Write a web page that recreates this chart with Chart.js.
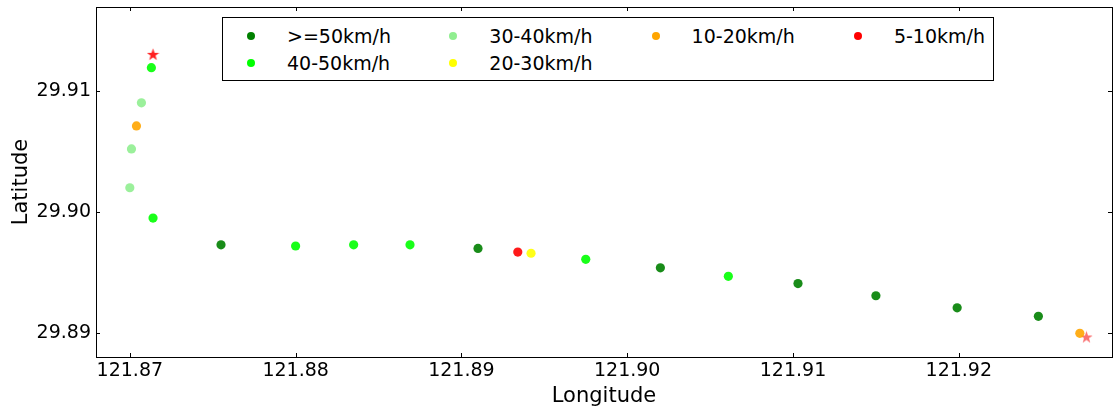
<!DOCTYPE html>
<html>
<head>
<meta charset="utf-8">
<script src="https://cdn.jsdelivr.net/npm/chart.js@4.4.1/dist/chart.umd.min.js"></script>
<style>
  html, body { margin: 0; padding: 0; background: #fff; }
  #wrap { position: relative; width: 1117px; height: 411px; overflow: hidden; }
  #legend {
    position: absolute; left: 222px; top: 17px; width: 770px; height: 62px;
    border: 1px solid #000; background: #fff;
    font-family: "DejaVu Sans", sans-serif; font-size: 19px; color: #000;
  }
  #legend .item { position: absolute; height: 24px; line-height: 24px; white-space: nowrap; }
  #legend .dot { position: absolute; width: 8px; height: 8px; border-radius: 50%; top: 8px; left: -4px; }
  #legend .txt { position: absolute; left: 36px; top: 0; }
</style>
</head>
<body>
<div id="wrap">
  <canvas id="track" width="1117" height="411"></canvas>
  <div id="legend"></div>
</div>
<script>
// speed classes and their colours
const speedClasses = [">=50km/h", "40-50km/h", "30-40km/h", "20-30km/h", "10-20km/h", "5-10km/h"];
const classColors = ["0,128,0", "0,255,0", "144,238,144", "255,255,0", "255,165,0", "255,0,0"];

// GPS track points, in driving order
const trackLon = [121.8713, 121.8707, 121.8704, 121.8701, 121.8700, 121.8714, 121.8755,
                  121.8800, 121.8835, 121.8869, 121.8910, 121.8934, 121.8942, 121.8975,
                  121.9020, 121.9061, 121.9103, 121.9150, 121.9199, 121.9248, 121.9273];
const trackLat = [29.9119, 29.9090, 29.9071, 29.9052, 29.9020, 29.8995, 29.8973,
                  29.8972, 29.8973, 29.8973, 29.8970, 29.8967, 29.8966, 29.8961,
                  29.8954, 29.8947, 29.8941, 29.8931, 29.8921, 29.8914, 29.8900];
// index into speedClasses for each point
const trackClass = [1, 2, 4, 2, 2, 1, 0,
                    1, 1, 1, 0, 5, 3, 1,
                    0, 1, 0, 0, 0, 0, 4];

const startPoint = [121.8714, 29.9130];
const endPoint = [121.9277, 29.8897];

const xTicks = [121.87, 121.88, 121.89, 121.90, 121.91, 121.92];
const yTicks = [29.89, 29.90, 29.91];

function starImage(color, size) {
  const c = document.createElement("canvas");
  c.width = size; c.height = size;
  const g = c.getContext("2d");
  const cx = size / 2, cy = size / 2, R = size / 2, r = R * 0.4;
  g.beginPath();
  for (let i = 0; i < 10; i++) {
    const rad = i % 2 ? r : R;
    const a = -Math.PI / 2 + i * Math.PI / 5;
    g.lineTo(cx + rad * Math.cos(a), cy + rad * Math.sin(a) + 0.5);
  }
  g.closePath();
  g.fillStyle = color;
  g.fill();
  return c;
}

const datasets = speedClasses.map((label, k) => ({
  label: label,
  data: trackLon.map((lon, i) => ({ x: lon, y: trackLat[i], k: trackClass[i] }))
                .filter(p => p.k === k),
  backgroundColor: "rgba(" + classColors[k] + ",0.9)",
  legendColor: "rgb(" + classColors[k] + ")",
  borderWidth: 0,
  pointRadius: 4.6,
  inLegend: true
}));

datasets.push({
  label: "start",
  data: [{ x: startPoint[0], y: startPoint[1] }],
  pointStyle: starImage("rgba(255,20,20,0.95)", 13),
  inLegend: false
});
datasets.push({
  label: "end",
  data: [{ x: endPoint[0], y: endPoint[1] }],
  pointStyle: starImage("rgba(250,100,100,0.9)", 13),
  inLegend: false
});

// inward ticks on all four sides plus the axes frame
const frameTicks = {
  id: "frameTicks",
  afterDatasetsDraw(chart) {
    const { ctx, chartArea: a, scales: { x, y } } = chart;
    ctx.save();
    ctx.strokeStyle = "#000";
    ctx.lineWidth = 1;
    ctx.beginPath();
    xTicks.forEach(v => {
      const px = Math.round(x.getPixelForValue(v)) + 0.5;
      ctx.moveTo(px, a.bottom); ctx.lineTo(px, a.bottom - 4);
      ctx.moveTo(px, a.top); ctx.lineTo(px, a.top + 4);
    });
    yTicks.forEach(v => {
      const py = Math.round(y.getPixelForValue(v)) + 0.5;
      ctx.moveTo(a.left, py); ctx.lineTo(a.left + 4, py);
      ctx.moveTo(a.right, py); ctx.lineTo(a.right - 4, py);
    });
    ctx.stroke();
    ctx.strokeRect(a.left + 0.5, a.top + 0.5, a.right - a.left, a.bottom - a.top);
    ctx.restore();
  }
};

function noOverflow(s) {
  s.paddingTop = 0; s.paddingBottom = 0;
  s.paddingLeft = 0; s.paddingRight = 0;
}

const tickFont = { family: "DejaVu Sans", size: 19 };
const titleFont = { family: "DejaVu Sans", size: 21 };

const chart = new Chart(document.getElementById("track").getContext("2d"), {
  type: "scatter",
  data: { datasets: datasets },
  options: {
    responsive: false,
    animation: false,
    devicePixelRatio: 1,
    layout: { padding: { top: 7, right: 0, bottom: 0, left: 0 } },
    plugins: { legend: { display: false }, tooltip: { enabled: false } },
    scales: {
      x: {
        type: "linear",
        min: 121.86796,
        max: 121.92924,
        grid: { display: false, drawTicks: false },
        border: { display: false },
        afterBuildTicks: s => { s.ticks = xTicks.map(v => ({ value: v })); },
        afterFit: s => { s.height = 54; noOverflow(s); },
        ticks: {
          color: "#000", font: tickFont, padding: 3, maxRotation: 0,
          callback: v => v.toFixed(2)
        },
        title: { display: true, text: "Longitude", color: "#000", font: titleFont, padding: { top: 0, bottom: 2 } }
      },
      y: {
        type: "linear",
        min: 29.88805,
        max: 29.9169,
        grid: { display: false, drawTicks: false },
        border: { display: false },
        afterBuildTicks: s => { s.ticks = yTicks.map(v => ({ value: v })); },
        afterFit: s => { s.width = 96; noOverflow(s); },
        ticks: {
          color: "#000", font: tickFont, padding: 5,
          callback: v => v.toFixed(2)
        },
        title: { display: true, text: "Latitude", color: "#000", font: titleFont, padding: { top: 9, bottom: 0 } }
      }
    }
  },
  plugins: [frameTicks]
});

// framed legend in four columns holding 2, 2, 1 and 1 entries
const legendCols = [0, 0, 1, 1, 2, 3];
const legendRows = [0, 1, 0, 1, 0, 0];
const legendBox = document.getElementById("legend");
chart.data.datasets.filter(ds => ds.inLegend).forEach((ds, i) => {
  const item = document.createElement("div");
  item.className = "item";
  item.style.left = (28 + legendCols[i] * 202.3) + "px";
  item.style.top = (6 + legendRows[i] * 27) + "px";
  const dot = document.createElement("span");
  dot.className = "dot";
  dot.style.background = ds.legendColor;
  const txt = document.createElement("span");
  txt.className = "txt";
  txt.textContent = ds.label;
  item.appendChild(dot);
  item.appendChild(txt);
  legendBox.appendChild(item);
});
</script>
</body>
</html>
